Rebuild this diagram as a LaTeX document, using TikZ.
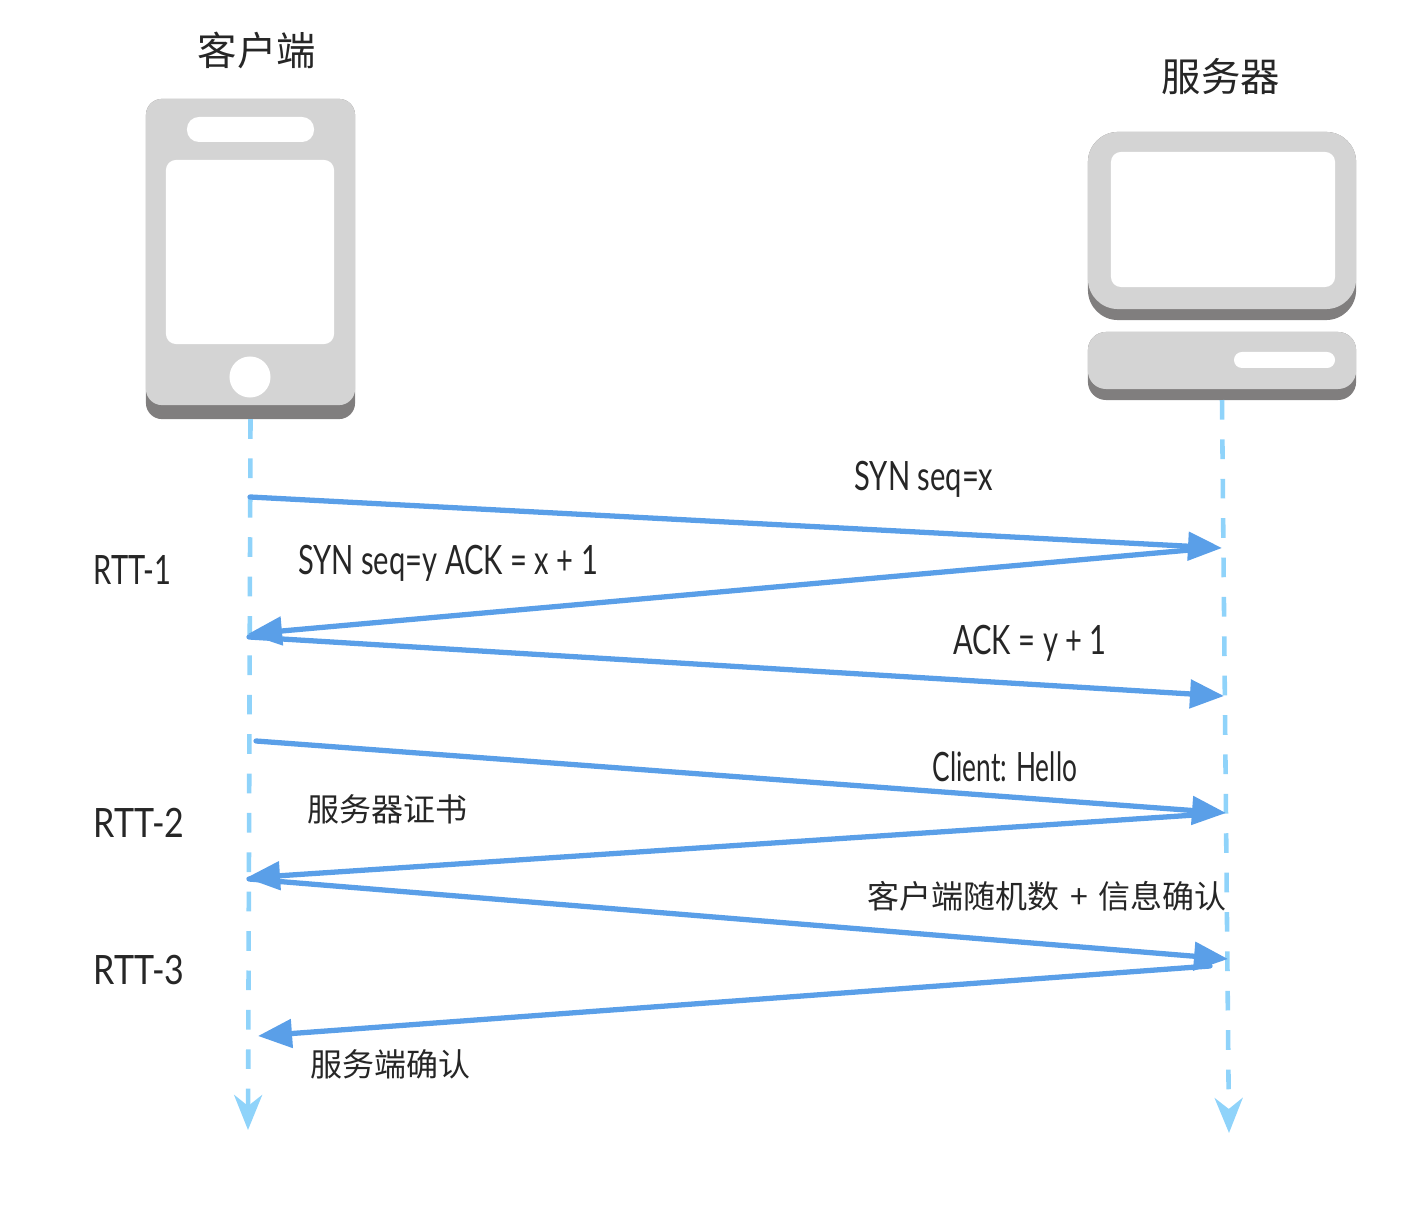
\documentclass[tikz,border=0pt]{standalone}
\usepackage{fontspec}
\newfontfamily\cjk{Noto Sans CJK SC}
\newfontfamily\handfont[FakeStretch=0.72]{Lato}
\newfontfamily\handnarrowfont[FakeStretch=0.65]{Lato}
\newfontfamily\handwidefont[FakeStretch=0.84]{Lato}
\usetikzlibrary{arrows.meta, positioning}
\definecolor{panelgray}{HTML}{D4D4D4}
\definecolor{shadegray}{HTML}{807E7E}
\definecolor{lifeblue}{HTML}{8FD3FA}
\definecolor{msgblue}{HTML}{5A9FE8}
\tikzset{
  panel/.style={fill=panelgray, inner sep=0pt, outer sep=0pt},
  shade/.style={fill=shadegray, inner sep=0pt, outer sep=0pt},
  hole/.style={fill=white, inner sep=0pt, outer sep=0pt},
  lifeline/.style={color=lifeblue, line width=1.3pt, dash pattern=on 5.6pt off 5.6pt,
    -{Stealth[length=.35cm, width=.28cm, inset=.11cm]}},
  msg/.style={color=msgblue, line width=1.5pt, line cap=round,
    -{Triangle[length=.34cm, width=.28cm]}},
  title/.style={font=\cjk\fontsize{11.2pt}{13pt}\selectfont, text=black!85},
  cjklabel/.style={font=\cjk\fontsize{9.1pt}{11pt}\selectfont, text=black!85},
  hand/.style={font=\handfont\fontsize{11.5pt}{14pt}\selectfont, text=black!85},
  handnarrow/.style={font=\handnarrowfont\fontsize{11.5pt}{14pt}\selectfont, text=black!85},
  handwide/.style={font=\handwidefont\fontsize{11.5pt}{14pt}\selectfont, text=black!85}
}
\begin{document}
\begin{tikzpicture}[x=0.01cm, y=-0.01cm]
  \useasboundingbox (0,0) rectangle (1428,1210);

  % phone
  \node[shade, rounded corners=.16cm, minimum width=2.09cm, minimum height=3.2cm]  (phonebase) at (250.5,259) {};
  \node[panel, rounded corners=.16cm, minimum width=2.09cm, minimum height=3.06cm] (phone) at (250.5,252) {};
  \node[hole, rounded corners=.12cm, minimum width=1.27cm, minimum height=.25cm]   (speaker) at (250.5,129.5) {};
  \node[hole, rounded corners=.1cm, minimum width=1.68cm, minimum height=1.84cm]   (phonescreen) at (250,252) {};
  \node[hole, circle, minimum size=.41cm] (homekey) at (250,377) {};

  % server
  \node[shade, rounded corners=.3cm, minimum width=2.68cm, minimum height=1.88cm] (monitorbase) at (1222,226) {};
  \node[panel, rounded corners=.3cm, minimum width=2.68cm, minimum height=1.77cm] (monitor) at (1222,220.5) {};
  \node[hole, rounded corners=.1cm, minimum width=2.24cm, minimum height=1.35cm]  (monitorscreen) at (1223,219.5) {};
  \node[shade, rounded corners=.18cm, minimum width=2.68cm, minimum height=.68cm] (hostbase) at (1222,366) {};
  \node[panel, rounded corners=.18cm, minimum width=2.68cm, minimum height=.57cm] (host) at (1222,360.5) {};
  \node[hole, rounded corners=.08cm, minimum width=1.01cm, minimum height=.16cm]  (slot) at (1284.5,360) {};

  \node[title] (clientname) at (257,50) {客户端};
  \node[title] (servername) at (1221,77) {服务器};

  \coordinate (clientend) at (248,1130);
  \coordinate (serverend) at (1229,1133);
  \path (phonebase.south) edge[lifeline] (clientend);
  \path (hostbase.south)  edge[lifeline] (serverend);

  \coordinate (c1) at (250,497);   \coordinate (s1) at (1222,548);
  \coordinate (s2) at (1190,550);  \coordinate (c2) at (248,634);
  \coordinate (c3) at (249,637);   \coordinate (s3) at (1224,696);
  \coordinate (c4) at (256,741);   \coordinate (s4) at (1226,813);
  \coordinate (s5) at (1195,815);  \coordinate (c5) at (246,878);
  \coordinate (c6) at (249,879);   \coordinate (s6) at (1228,959);
  \coordinate (s7) at (1210,966);  \coordinate (c7) at (258,1036);

  \path
    (c1) edge[msg] (s1)
    (s2) edge[msg] (c2)
    (c3) edge[msg] (s3)
    (c4) edge[msg] (s4)
    (s5) edge[msg] (c5)
    (c6) edge[msg] (s6)
    (s7) edge[msg] (c7);

  \node[hand] (synx)  at (924,479)  {SYN seq=x};
  \node[hand] (syny)  at (448,563)  {SYN seq=y ACK = x + 1};
  \node[hand] (acky)  at (1030,643) {ACK = y + 1};
  \node[handnarrow] (hello) at (1005,767) {Client: Hello};
  \node[hand, anchor=west, inner sep=0pt] (rtta) at (93,570)  {RTT-1};
  \node[handwide, anchor=west, inner sep=0pt] (rttb) at (93,823)  {RTT-2};
  \node[handwide, anchor=west, inner sep=0pt] (rttc) at (93,970)  {RTT-3};

  \node[cjklabel] (cert)    at (387,809)  {服务器证书};
  \node[cjklabel] (random)  at (1047,896) {客户端随机数 \kern1pt+\kern1pt\ 信息确认};
  \node[cjklabel] (confirm) at (390,1064) {服务端确认};
\end{tikzpicture}
\end{document}
